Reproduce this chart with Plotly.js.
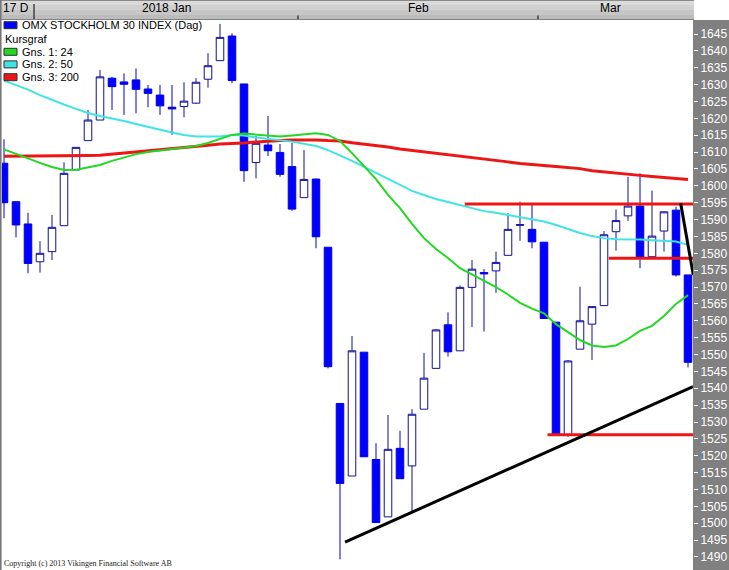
<!DOCTYPE html>
<html>
<head>
<meta charset="utf-8">
<script src="https://cdn.plot.ly/plotly-3.0.1.min.js"></script>
<style>html,body{margin:0;padding:0;background:#fff;}#chart{width:729px;height:570px;}</style>
</head>
<body>
<div id="chart"></div>
<script>
// Trading days shown (Dec 2017 - Mar 2018)
const dates = [
 '2017-12-27','2017-12-28','2017-12-29',
 '2018-01-02','2018-01-03','2018-01-04','2018-01-05','2018-01-08','2018-01-09','2018-01-10','2018-01-11','2018-01-12',
 '2018-01-15','2018-01-16','2018-01-17','2018-01-18','2018-01-19','2018-01-22','2018-01-23','2018-01-24','2018-01-25',
 '2018-01-26','2018-01-29','2018-01-30','2018-01-31',
 '2018-02-01','2018-02-02','2018-02-05','2018-02-06','2018-02-07','2018-02-08','2018-02-09','2018-02-12','2018-02-13',
 '2018-02-14','2018-02-15','2018-02-16','2018-02-19','2018-02-20','2018-02-21','2018-02-22','2018-02-23','2018-02-26',
 '2018-02-27','2018-02-28',
 '2018-03-01','2018-03-02','2018-03-05','2018-03-06','2018-03-07','2018-03-08','2018-03-09','2018-03-12','2018-03-13',
 '2018-03-14','2018-03-15','2018-03-16','2018-03-19'
];
const open = [1606.7,1595.3,1588.7,1577.5,1580.5,1588.2,1604.7,1613.4,1619.5,1631.9,1630.8,1631.4,1628.7,1626.9,1623.3,1623.5,1624.5,1631.6,1637.1,1644.4,
 1630.2,1606.9,1612.1,1609.9,1605.7,1596.5,1602.0,1581.8,1535.5,1514.0,1550.7,1518.9,1501.9,1522.2,1517.0,1533.8,1545.9,1558.8,1551.1,1569.9,
 1574.3,1574.8,1579.4,1588.3,1587.1,1583.3,1559.6,1526.2,1551.6,1559.0,1564.5,1586.4,1591.1,1594.0,1579.0,1586.6,1592.8,1573.6];
const high = [1613.8,1595.5,1592.0,1583.6,1591.4,1607.0,1611.4,1622.5,1634.3,1632.3,1633.3,1634.8,1629.9,1629.9,1629.9,1630.7,1631.9,1639.3,1648.0,1645.2,
 1630.2,1614.8,1620.7,1612.4,1612.8,1610.6,1602.2,1581.8,1535.5,1555.5,1550.7,1523.7,1532.1,1527.4,1533.8,1550.5,1557.6,1562.5,1570.5,1578.0,
 1575.3,1580.5,1591.9,1595.3,1594.8,1583.3,1559.6,1548.4,1570.1,1564.2,1586.6,1593.0,1602.7,1603.7,1598.6,1592.3,1593.8,1573.6];
const low = [1590.4,1584.7,1574.1,1574.3,1578.0,1588.2,1604.7,1613.4,1619.5,1622.5,1621.0,1621.5,1623.3,1621.0,1615.1,1620.3,1624.3,1629.1,1637.1,1630.4,
 1601.2,1602.2,1608.8,1602.7,1592.6,1596.5,1581.5,1545.9,1489.3,1514.0,1519.7,1500.2,1501.9,1513.2,1502.9,1533.8,1545.9,1549.4,1551.1,1558.1,
 1556.8,1568.3,1579.4,1583.7,1581.5,1560.7,1526.0,1525.6,1551.6,1548.4,1564.5,1580.8,1589.6,1575.6,1579.0,1580.5,1573.1,1546.2];
const close = [1595.0,1588.4,1577.0,1580.0,1587.7,1603.7,1611.4,1619.5,1632.3,1629.4,1630.1,1628.6,1627.4,1623.7,1622.8,1625.1,1630.7,1635.6,1644.0,1631.2,
 1604.5,1612.6,1610.4,1603.4,1593.1,1601.9,1584.9,1546.4,1511.8,1551.1,1519.7,1500.2,1521.9,1513.2,1532.3,1543.0,1557.3,1550.8,1569.9,1575.3,
 1573.9,1577.3,1587.1,1588.5,1583.4,1560.7,1526.2,1548.1,1560.0,1564.2,1585.5,1589.7,1594.0,1578.5,1585.1,1592.3,1573.6,1547.7];
// Moving averages
const ma24 = [1610.8,1609.4,1608.1,1606.8,1605.6,1604.7,1604.8,1605.4,1606.2,1607.4,1608.5,1609.4,1610.0,1610.5,1610.8,1611.4,1611.8,1612.7,1613.9,1615.1,
 1615.5,1615.2,1614.8,1614.6,1614.9,1615.3,1615.6,1615.1,1613.3,1609.7,1605.9,1602.0,1597.3,1593.4,1588.7,1584.5,1581.3,1578.6,1575.6,1573.7,
 1571.8,1570.0,1567.8,1565.3,1563.6,1562.2,1559.0,1556.7,1554.3,1552.7,1552.2,1552.7,1554.6,1557.0,1558.5,1561.4,1565.0,1567.6];
const ma50 = [1631.2,1629.9,1628.5,1626.9,1625.4,1624.1,1622.8,1621.6,1620.7,1620.0,1619.2,1618.3,1617.4,1616.5,1615.8,1615.1,1614.6,1614.6,1614.6,1615.1,
 1614.9,1614.3,1613.9,1613.6,1613.1,1612.5,1611.8,1610.6,1609.1,1607.4,1605.6,1603.8,1602.0,1600.2,1598.5,1597.3,1596.1,1595.2,1594.3,1593.3,
 1592.5,1592.0,1591.4,1590.8,1590.0,1589.4,1588.4,1587.1,1586.0,1585.1,1584.5,1584.2,1584.2,1584.1,1583.9,1583.8,1583.5,1582.5];
const ma200 = [1608.8,1608.8,1608.8,1608.8,1608.8,1608.8,1608.8,1609.0,1609.1,1609.4,1609.7,1610.0,1610.3,1610.6,1610.9,1611.3,1611.7,1612.0,1612.4,1612.5,
 1612.7,1613.0,1613.3,1613.4,1613.6,1613.7,1613.6,1613.4,1613.3,1612.8,1612.4,1612.0,1611.5,1610.9,1610.5,1610.0,1609.6,1609.1,1608.8,1608.4,
 1608.0,1607.5,1607.1,1606.6,1606.2,1606.0,1605.7,1605.4,1605.1,1604.5,1604.1,1603.7,1603.4,1603.1,1602.8,1602.5,1602.2,1601.9];
// Hand-drawn levels / trend lines (start index, level)
const levelStart = [38.4, 50.4, 45.3];
const levelValue = [1594.6, 1578.5, 1526.2];
const supportLine = {x: [28.42, 57.42], y: [1494.4, 1540.5]};
const resistLine = {x: [56.39, 57.44], y: [1594.8, 1573.6]};
// Header / legend texts
const monthLabels = ['2018 Jan', 'Feb', 'Mar'];
const monthCenters = [13.5, 34.5, 50.5];
const monthBounds = [2.5, 24.5, 44.5];
const legendNames = ['OMX STOCKHOLM 30 INDEX (Dag)', 'Kursgraf', 'Gns. 1: 24', 'Gns. 2: 50', 'Gns. 3: 200'];
const legendColors = ['#0000ff', null, '#22d822', '#40e4e4', '#ee1515'];

const W = 729, H = 570;
const P = px => px / W;
const Q = py => 1 - py / H;

const traces = [
  {type: 'candlestick', x: dates, open: open, high: high, low: low, close: close,
   increasing: {line: {color: '#10109a', width: 1}, fillcolor: '#ffffff'},
   decreasing: {line: {color: '#0000e8', width: 1}, fillcolor: '#0000ff'},
   whiskerwidth: 0, hoverinfo: 'skip', showlegend: false},
  {type: 'scatter', mode: 'lines', x: dates, y: ma200, line: {color: '#ee1515', width: 3}, hoverinfo: 'skip', showlegend: false},
  {type: 'scatter', mode: 'lines', x: dates, y: ma50, line: {color: '#40e4e4', width: 2}, hoverinfo: 'skip', showlegend: false},
  {type: 'scatter', mode: 'lines', x: dates, y: ma24, line: {color: '#22d822', width: 2}, hoverinfo: 'skip', showlegend: false}
];

const shapes = [];
const annotations = [];
// header bar bands
const bands = [[0,1,'#8a8a8a'],[1,5,'#dadada'],[5,10,'#d0d0d0'],[10,15,'#c6c6c6'],[15,19,'#bcbcbc'],[19,20,'#808080']];
bands.forEach(b => shapes.push({type:'rect', xref:'paper', yref:'paper', x0:0, x1:P(694), y0:Q(b[1]), y1:Q(b[0]), fillcolor:b[2], line:{width:0}, layer:'below'}));
// right axis panel
shapes.push({type:'rect', xref:'paper', yref:'paper', x0:P(693), x1:1, y0:0, y1:Q(20), fillcolor:'#808080', line:{width:0}, layer:'below'});
// left border
shapes.push({type:'rect', xref:'paper', yref:'paper', x0:0, x1:P(1.6), y0:0, y1:1, fillcolor:'#777777', line:{width:0}, layer:'above'});
// header ticks
shapes.push({type:'line', xref:'x', yref:'paper', x0:monthBounds[0], x1:monthBounds[0], y0:Q(19), y1:Q(4), line:{color:'#000', width:1}});
for (let k = 1; k < monthBounds.length; k++) {
  shapes.push({type:'line', xref:'x', yref:'paper', x0:monthBounds[k], x1:monthBounds[k], y0:Q(19), y1:Q(15.5), line:{color:'#000', width:1}});
}
annotations.push({xref:'paper', yref:'paper', x:P(0.5), y:Q(8), xanchor:'left', yanchor:'middle', text:'17 D', showarrow:false, font:{family:'Liberation Sans, Arial', size:12, color:'#000'}});
monthLabels.forEach((t, k) => annotations.push({xref:'x', yref:'paper', x:monthCenters[k], y:Q(8), xanchor:'center', yanchor:'middle', text:t, showarrow:false, font:{family:'Liberation Sans, Arial', size:12, color:'#000'}}));
// levels
levelValue.forEach((v, k) => shapes.push({type:'line', xref:'x', yref:'y', x0:levelStart[k], x1:57.6, y0:v, y1:v, line:{color:'#ee1515', width:3}}));
shapes.push({type:'line', xref:'x', yref:'y', x0:supportLine.x[0], x1:supportLine.x[1], y0:supportLine.y[0], y1:supportLine.y[1], line:{color:'#000', width:3}});
shapes.push({type:'line', xref:'x', yref:'y', x0:resistLine.x[0], x1:resistLine.x[1], y0:resistLine.y[0], y1:resistLine.y[1], line:{color:'#000', width:3}});
// legend
const legY = [25.2, 39.3, 51.8, 64.4, 77.2];
legendNames.forEach((t, k) => {
  if (legendColors[k]) {
    shapes.push({type:'rect', xref:'paper', yref:'paper', x0:P(4), x1:P(17), y0:Q(legY[k]+3.5), y1:Q(legY[k]-3.5), fillcolor:legendColors[k], line:{color:'#303030', width:1}});
  }
  annotations.push({xref:'paper', yref:'paper', x:P(legendColors[k] ? 20 : 3), y:Q(legY[k]), xanchor:'left', yanchor:'middle', text:t, showarrow:false, font:{family:'Liberation Sans, Arial', size:11, color:'#000'}});
});
annotations.push({xref:'paper', yref:'paper', x:P(1.5), y:Q(563), xanchor:'left', yanchor:'middle', text:'Copyright (c) 2013 Vikingen Financial Software AB', showarrow:false, font:{family:'Liberation Serif, Times New Roman', size:8, color:'#222'}});

const layout = {
  width: W, height: H,
  margin: {l:0, r:0, t:0, b:0, pad:0},
  paper_bgcolor: '#ffffff', plot_bgcolor: '#ffffff',
  showlegend: false,
  boxgap: 0.1,
  xaxis: {type:'category', domain:[P(2), P(693)], range:[-0.1667, 57.4167], showticklabels:false, ticks:'', showgrid:false, zeroline:false, showline:false, rangeslider:{visible:false}, fixedrange:true},
  yaxis: {domain:[0, Q(20)], range:[1486.14, 1649.15], side:'right', tick0:1490, dtick:5, ticks:'outside', ticklen:4, tickwidth:1, tickcolor:'#ffffff',
          tickfont:{family:'Liberation Sans, Arial', size:12, color:'#ffffff'}, showgrid:false, zeroline:false, showline:false, fixedrange:true, automargin:false},
  shapes: shapes,
  annotations: annotations
};
Plotly.newPlot('chart', traces, layout, {staticPlot:true, displayModeBar:false});
</script>
</body>
</html>
